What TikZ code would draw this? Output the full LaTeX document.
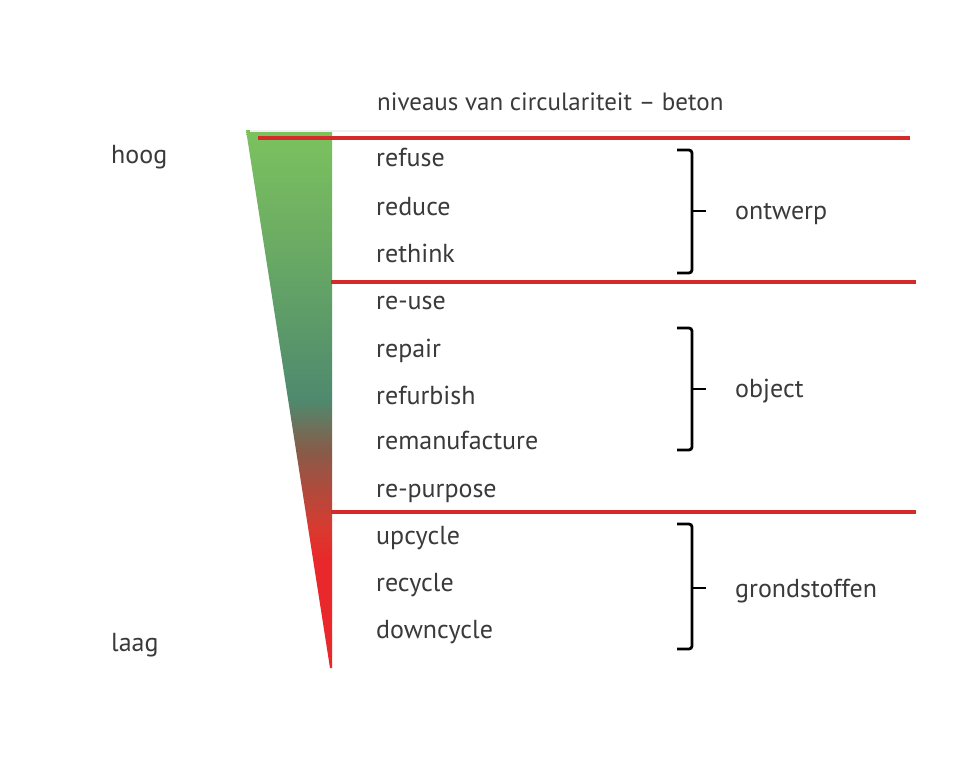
\documentclass[tikz,border=0pt]{standalone}
\usepackage{fontspec}
\setmainfont{PT Sans}
\definecolor{txt}{HTML}{3A3A3A}
\definecolor{redline}{HTML}{D42A2A}
\definecolor{gtop}{HTML}{7CC25E}
\definecolor{gup}{HTML}{6AAA64}
\definecolor{gteal}{HTML}{4E8A6E}
\definecolor{gbrown}{HTML}{8A5A48}
\definecolor{gred}{HTML}{D83A30}
\definecolor{gbot}{HTML}{E8282A}
\pgfdeclareverticalshading{trishade}{100bp}{%
  color(0bp)=(gbot); color(25bp)=(gbot); color(35bp)=(gbot);
  color(38bp)=(gred); color(45bp)=(gbrown); color(50bp)=(gteal);
  color(63.8bp)=(gup); color(75bp)=(gtop); color(100bp)=(gtop)}
\tikzset{
  lbl/.style={font=\fontsize{26}{31}\selectfont, text=txt, inner sep=0pt, anchor=mid west},
  ttl/.style={lbl, font=\fontsize{25}{30}\selectfont},
  redrule/.style={draw=redline, line width=3.2pt},
  bracket/.style={draw=black, line width=2.8pt, rounded corners=3pt},
  tick/.style={draw=black, line width=2.8pt},
}
\begin{document}
\begin{tikzpicture}[x=1pt,y=-1pt]
\useasboundingbox[fill=white] (0,0) rectangle (960,769);
% triangle
\shade[shading=trishade] (246,130) -- (332,130) -- (332,668) -- (330,668) -- cycle;
% faint line
\draw[black!6, line width=1.2pt] (250,131) -- (905,131);
% red rules
\coordinate (r1a) at (258,138); \coordinate (r1b) at (910,138);
\coordinate (r2a) at (331,282); \coordinate (r2b) at (916,282);
\coordinate (r3a) at (331,512); \coordinate (r3b) at (916,512);
\draw[redrule] (r1a) -- (r1b);
\draw[redrule] (r2a) -- (r2b);
\draw[redrule] (r3a) -- (r3b);
% title and side labels
\node[ttl] (title) at (377,108) {niveaus van circulariteit – beton};
\node[lbl] (hoog) at (111,161) {hoog};
\node[lbl] (laag) at (111,649) {laag};
% items
\node[lbl] (refuse) at (376,164) {refuse};
\node[lbl] (reduce) at (376,213) {reduce};
\node[lbl] (rethink) at (376,260) {rethink};
\node[lbl] (reuse) at (376,307) {re-use};
\node[lbl] (repair) at (376,355) {repair};
\node[lbl] (refurbish) at (376,402) {refurbish};
\node[lbl] (remanufacture) at (376,447) {remanufacture};
\node[lbl] (repurpose) at (376,495) {re-purpose};
\node[lbl] (upcycle) at (376,542) {upcycle};
\node[lbl] (recycle) at (376,589) {recycle};
\node[lbl] (downcycle) at (376,636) {downcycle};
% group labels
\node[lbl] (ontwerp) at (735,217) {ontwerp};
\node[lbl] (object) at (735,395) {object};
\node[lbl] (grond) at (735,595) {grondstoffen};
% brackets
\draw[bracket] (677,150) -- (692,150) -- (692,273) -- (677,273);
\draw[tick] (692,211) -- (706,211);
\draw[bracket] (677,328) -- (692,328) -- (692,450) -- (677,450);
\draw[tick] (692,389) -- (706,389);
\draw[bracket] (677,524) -- (692,524) -- (692,649) -- (677,649);
\draw[tick] (692,588) -- (706,588);
\end{tikzpicture}
\end{document}
